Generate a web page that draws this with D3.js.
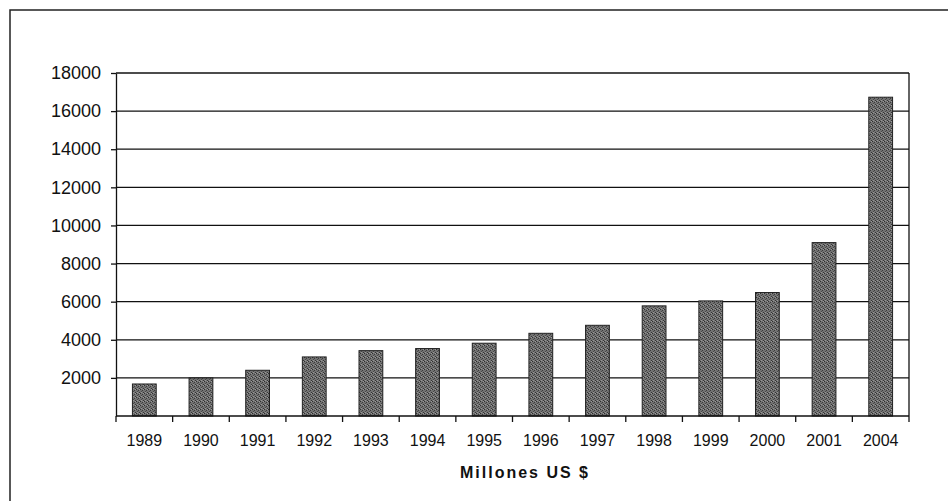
<!DOCTYPE html>
<html>
<head>
<meta charset="utf-8">
<script src="https://cdn.jsdelivr.net/npm/d3@7"></script>
<style>
  body { margin: 0; background: #fff; }
  svg { display: block; }
  .tick text { font-family: "Liberation Sans", Arial, sans-serif; fill: #111; }
</style>
</head>
<body>
<svg id="chart" width="948" height="501"></svg>
<script>
// datos
const years = ['1989', '1990', '1991', '1992', '1993', '1994', '1995', '1996', '1997', '1998', '1999', '2000', '2001', '2004'];
const values = [1680, 2000, 2400, 3100, 3430, 3540, 3820, 4340, 4760, 5780, 6040, 6480, 9100, 16730];
const yTicks = [2000, 4000, 6000, 8000, 10000, 12000, 14000, 16000, 18000];
const axisTitle = 'Millones US $';

const svg = d3.select('#chart');
const margin = {left: 116, right: 39, top: 73, bottom: 85};
const width = 948 - margin.left - margin.right;
const height = 501 - margin.top - margin.bottom;

// marco exterior (abierto a la derecha y abajo)
svg.append('path')
  .attr('d', 'M10,501 L10,10 L948,10')
  .attr('fill', 'none')
  .attr('stroke', '#222')
  .attr('stroke-width', 1.5);

// textura de las barras
const defs = svg.append('defs');
const pat = defs.append('pattern')
  .attr('id', 'grain')
  .attr('width', 4).attr('height', 4)
  .attr('patternUnits', 'userSpaceOnUse');
pat.append('rect').attr('width', 4).attr('height', 4).attr('fill', '#727272');
pat.append('rect').attr('x', 0).attr('y', 0).attr('width', 1).attr('height', 1).attr('fill', '#2e2e2e');
pat.append('rect').attr('x', 2).attr('y', 1).attr('width', 1).attr('height', 1).attr('fill', '#3c3c3c');
pat.append('rect').attr('x', 1).attr('y', 2).attr('width', 1).attr('height', 1).attr('fill', '#484848');
pat.append('rect').attr('x', 3).attr('y', 3).attr('width', 1).attr('height', 1).attr('fill', '#353535');
pat.append('rect').attr('x', 3).attr('y', 0).attr('width', 1).attr('height', 1).attr('fill', '#9a9a9a');
pat.append('rect').attr('x', 1).attr('y', 3).attr('width', 1).attr('height', 1).attr('fill', '#959595');

const g = svg.append('g')
  .attr('transform', 'translate(' + margin.left + ',' + margin.top + ')');

const x = d3.scaleBand()
  .domain(years)
  .range([0, width])
  .paddingInner(0.58)
  .paddingOuter(0.29);

const y = d3.scaleLinear()
  .domain([0, 18000])
  .range([height, 0]);

// líneas de división
g.append('g')
  .selectAll('line')
  .data(yTicks)
  .enter().append('line')
  .attr('x1', 0)
  .attr('x2', width)
  .attr('y1', d => y(d))
  .attr('y2', d => y(d))
  .attr('stroke', '#111')
  .attr('stroke-width', 1.3);

// borde derecho del área
g.append('line')
  .attr('x1', width).attr('x2', width)
  .attr('y1', 0).attr('y2', height)
  .attr('stroke', '#111')
  .attr('stroke-width', 1.3);

// barras
g.selectAll('.bar')
  .data(values)
  .enter().append('rect')
  .attr('class', 'bar')
  .attr('x', (d, i) => x(years[i]))
  .attr('y', d => y(d))
  .attr('width', x.bandwidth())
  .attr('height', d => height - y(d))
  .attr('fill', 'url(#grain)')
  .attr('stroke', '#222')
  .attr('stroke-width', 1);

// eje Y
const yAxis = g.append('g')
  .call(d3.axisLeft(y).tickValues(yTicks).tickFormat(d3.format('d'))
    .tickSize(5).tickPadding(10).tickSizeOuter(0));
yAxis.selectAll('text').style('font-size', '18px');
yAxis.selectAll('line, path').attr('stroke', '#111').attr('stroke-width', 1.3);

// eje X (marcas entre categorías)
const step = x.step();
const xAxis = g.append('g')
  .attr('transform', 'translate(0,' + height + ')');
xAxis.append('line')
  .attr('x1', 0).attr('x2', width)
  .attr('stroke', '#111').attr('stroke-width', 1.5);
xAxis.selectAll('.xt')
  .data(d3.range(years.length + 1))
  .enter().append('line')
  .attr('class', 'xt')
  .attr('x1', i => i * step).attr('x2', i => i * step)
  .attr('y1', 0).attr('y2', 6)
  .attr('stroke', '#111').attr('stroke-width', 1.3);
xAxis.selectAll('.xl')
  .data(years)
  .enter().append('text')
  .attr('class', 'xl')
  .attr('x', d => x(d) + x.bandwidth() / 2)
  .attr('y', 30)
  .attr('text-anchor', 'middle')
  .style('font-family', '"Liberation Sans", Arial, sans-serif')
  .style('font-size', '16px')
  .style('fill', '#111')
  .text(d => d);

// título del eje
svg.append('text')
  .attr('x', 525)
  .attr('y', 478)
  .attr('text-anchor', 'middle')
  .style('font-family', '"Liberation Sans", Arial, sans-serif')
  .style('font-size', '16px')
  .style('font-weight', 'bold')
  .style('letter-spacing', '2px')
  .style('fill', '#111')
  .text(axisTitle);
</script>
</body>
</html>
